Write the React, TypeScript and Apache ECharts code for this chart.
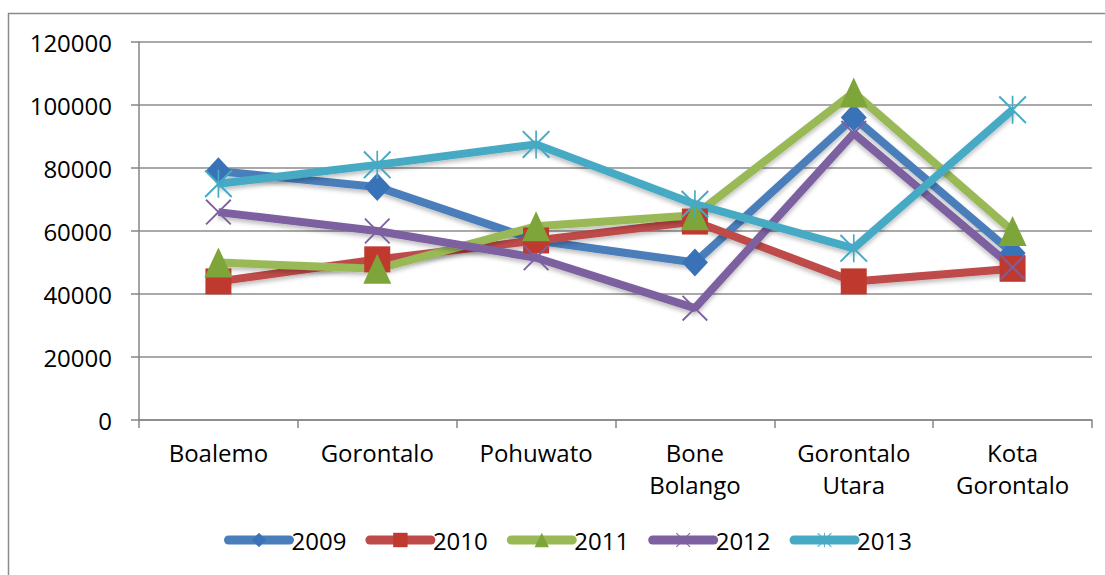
import React, { useEffect, useRef } from "react";
import * as echarts from "echarts";

const categories = ["Boalemo", "Gorontalo", "Pohuwato", "Bone\nBolango", "Gorontalo\nUtara", "Kota\nGorontalo"];
const yTicks = { min: 0, max: 120000, interval: 20000 };
const s2009 = [79000, 74000, 57000, 50000, 96000, 53000];
const s2010 = [44000, 51000, 57000, 63000, 44000, 48000];
const s2011 = [50000, 48000, 61500, 65000, 104000, 60000];
const s2012 = [66000, 60000, 51500, 35500, 91000, 48500];
const s2013 = [75000, 81000, 87500, 68500, 54500, 98500];
const seriesNames = ["2009", "2010", "2011", "2012", "2013"];

const X_PATH = "path://M0,5 L5,0 L50,45 L95,0 L100,5 L55,50 L100,95 L95,100 L50,55 L5,100 L0,95 L45,50 Z";
const STAR_PATH =
  "path://M0,5 L5,0 L50,45 L95,0 L100,5 L55,50 L100,95 L95,100 L50,55 L5,100 L0,95 L45,50 Z M47,0 L53,0 L53,100 L47,100 Z";

export default function App() {
  const ref = useRef<HTMLDivElement>(null);
  useEffect(() => {
    document.body.style.margin = "0";
    const chart = echarts.init(ref.current!, null, { renderer: "svg" });
    const font = "'Open Sans', Lato, sans-serif";
    const colors = ["#4A7EBB", "#BE4B48", "#98B954", "#7D60A0", "#46AAC5"];
    const markerColors = ["#3A72B8", "#C0392E", "#7DA53A", "#7D60A0", "#46AAC5"];
    const symbols = ["diamond", "rect", "triangle", X_PATH, STAR_PATH];
    const sizes: any[] = [[26, 28], 26, [28, 30], 26, 28];
    const data = [s2009, s2010, s2011, s2012, s2013];
    const series = data.map((d, i) => ({
      name: seriesNames[i],
      type: "line",
      data: d,
      symbol: symbols[i],
      symbolSize: sizes[i],
      lineStyle: {
        width: 8,
        color: colors[i],
        shadowColor: "rgba(0,0,0,0.25)",
        shadowBlur: 4,
        shadowOffsetY: 3,
      },
      itemStyle: { color: markerColors[i], borderWidth: 0 },
      emphasis: { disabled: true },
    }));
    chart.setOption({
      animation: false,
      backgroundColor: "#ffffff",
      graphic: [
        {
          type: "rect",
          shape: { x: 8.5, y: 13.5, width: 1200, height: 700 },
          style: { fill: "none", stroke: "#8a8a8a", lineWidth: 1.5 },
          z: -10,
        },
      ],
      grid: { left: 139, top: 42, right: 13, bottom: 155 },
      legend: {
        top: 523,
        left: 219,
        itemWidth: 61,
        itemHeight: 18,
        itemGap: 19,
        lineStyle: { width: 9, cap: "round", shadowBlur: 0 },
        textStyle: { fontFamily: font, fontSize: 24, color: "#000", padding: [0, 0, 0, -3] },
        data: seriesNames,
      },
      xAxis: {
        type: "category",
        data: categories,
        boundaryGap: true,
        axisLine: { lineStyle: { color: "#868686", width: 1.5 } },
        axisTick: { show: true, length: 8, lineStyle: { color: "#868686", width: 1.5 } },
        axisLabel: {
          fontFamily: font,
          fontSize: 24,
          color: "#000",
          margin: 16,
          lineHeight: 32,
          interval: 0,
        },
        splitLine: { show: false },
      },
      yAxis: {
        type: "value",
        min: yTicks.min,
        max: yTicks.max,
        interval: yTicks.interval,
        axisLine: { show: true, lineStyle: { color: "#868686", width: 1.5 } },
        axisTick: { show: true, length: 8, lineStyle: { color: "#868686", width: 1.5 } },
        axisLabel: {
          fontFamily: font,
          fontSize: 24,
          color: "#000",
          margin: 27,
          formatter: (v: number) => String(v),
        },
        splitLine: { show: true, lineStyle: { color: "#8c8c8c", width: 1.5 } },
      },
      series,
    });
    return () => chart.dispose();
  }, []);
  return <div ref={ref} style={{ width: 1105, height: 575 }} />;
}
